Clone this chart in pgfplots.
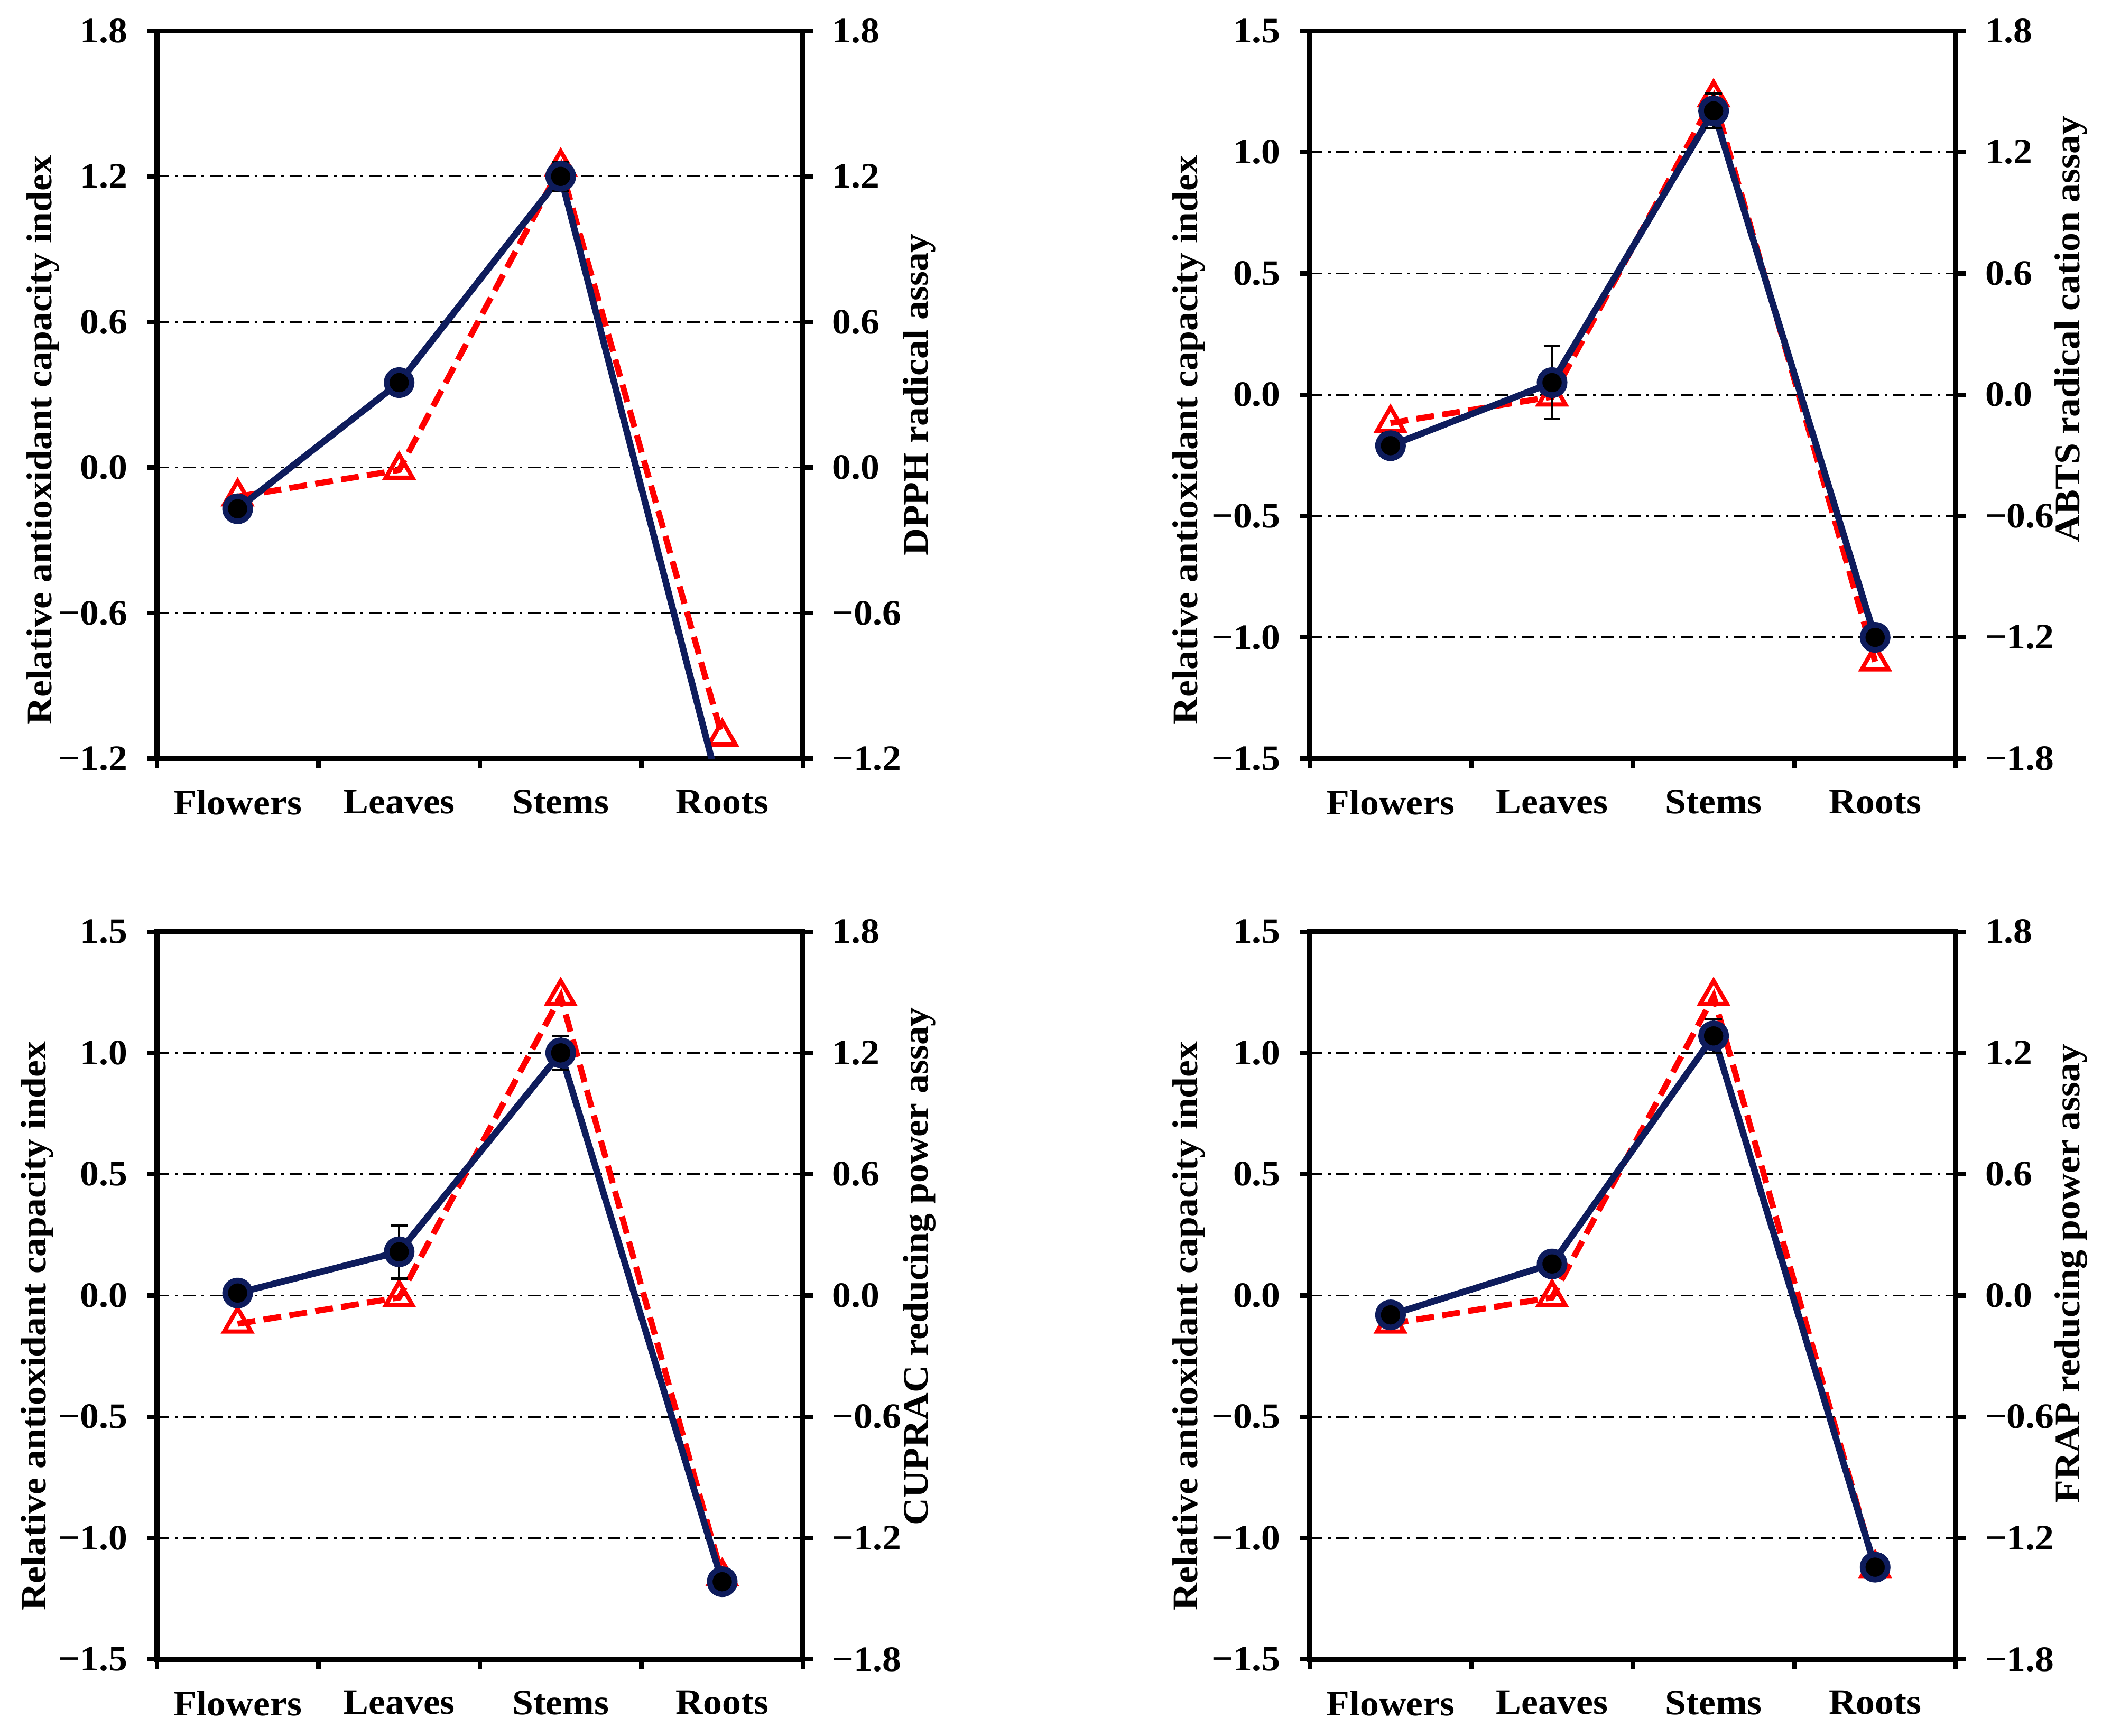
\documentclass[border=0pt]{standalone}
\usepackage{pgfplots}
\usepackage{pgfplotstable}
\pgfplotsset{compat=1.18}
\usepackage{fontspec}
\setmainfont{Liberation Serif}[FakeStretch=1.06]
\definecolor{navy}{RGB}{14,28,92}
\newcommand\labfont{\bfseries\fontsize{12}{14}\selectfont}

% x: 0 Flowers, 1 Leaves, 2 Stems, 3 Roots
\pgfplotstableread{
x b e r
0 -0.17 0.02 -0.12
1 0.35 0.02 -0.01
2 1.20 0.06 1.24
3 -1.37 0.00 -1.11
}\dpph
\pgfplotstableread{
x b e r
0 -0.21 0.05 -0.14
1 0.05 0.15 -0.01
2 1.17 0.07 1.47
3 -1.00 0.02 -1.32
}\abts
\pgfplotstableread{
x b e r
0 0.01 0.02 -0.14
1 0.18 0.11 -0.01
2 1.00 0.07 1.48
3 -1.18 0.02 -1.39
}\cuprac
\pgfplotstableread{
x b e r
0 -0.08 0.02 -0.14
1 0.13 0.03 -0.01
2 1.07 0.07 1.48
3 -1.12 0.02 -1.35
}\frap

\pgfplotsset{
  base/.style={scale only axis, width=216.9pt, height=244.35pt,
    xmin=-0.5, xmax=3.5, clip marker paths=true, anchor=south west},
  leftax/.style={base,
    axis line style={line width=1.7pt},
    tick align=outside, major tick length=3.3pt,
    tick style={line width=1.5pt, black},
    ytick pos=left, xtick pos=bottom,
    xtick={-0.5,0.5,1.5,2.5,3.5}, xticklabels={},
    extra x ticks={0,1,2,3},
    extra x tick labels={Flowers,Leaves,Stems,Roots},
    extra x tick style={major tick length=0pt, grid=none},
    ymajorgrids,
    grid style={black, line width=0.6pt, dash pattern=on 4.2pt off 1.9pt on 0.9pt off 1.9pt},
    tick label style={font=\labfont}, label style={font=\labfont},
    yticklabel style={xshift=-3pt},
    xticklabel style={yshift=-7pt},
    ylabel={Relative antioxidant capacity index},
  },
  rightax/.style={base,
    axis x line=none, axis y line*=right,
    axis line style={line width=1.7pt},
    tick align=outside, major tick length=3.3pt,
    tick style={line width=1.5pt, black},
    ymin=-1.8, ymax=1.8, ytick={-1.8,-1.2,-0.6,0,0.6,1.2,1.8},
    yticklabels={−1.8,−1.2,−0.6,0.0,0.6,1.2,1.8},
    tick label style={font=\labfont}, label style={font=\labfont},
    yticklabel style={xshift=3pt},
  },
  blueax/.style={base, hide axis},
  redplot/.style={draw=red, line width=2pt, dash pattern=on 6pt off 2.8pt,
    mark=triangle, mark options={solid, fill=white, draw=red, line width=1.4pt, mark size=5.2pt}},
  blueplot/.style={draw=navy, line width=2.2pt, mark=*,
    mark options={solid, fill=black, draw=navy, line width=1.9pt, mark size=4.2pt},
    error bars/.cd, y dir=both, y explicit,
    error bar style={black, line width=0.8pt},
    error mark options={rotate=90, black, line width=0.8pt, mark size=2.8pt}},
}

\begin{document}
\begin{tikzpicture}
\useasboundingbox (0,0) rectangle (705.6pt,-582.75pt);

% ---------- Top left: DPPH ----------
\begin{axis}[leftax, at={(52.65pt,-254.7pt)},
  ymin=-1.2, ymax=1.8, ytick={-1.2,-0.6,0,0.6,1.2,1.8},
  yticklabels={−1.2,−0.6,0.0,0.6,1.2,1.8},
  ylabel style={at={(axis description cs:-0.176,0.438)}, anchor=center}]
\end{axis}
\begin{axis}[rightax, at={(52.65pt,-254.7pt)},
  ymin=-1.2, ymax=1.8, ytick={-1.2,-0.6,0,0.6,1.2,1.8},
  yticklabels={−1.2,−0.6,0.0,0.6,1.2,1.8},
  ylabel={DPPH radical assay},
  ylabel style={at={(axis description cs:1.18,0.5)}, anchor=center}]
\addplot[redplot] table[x=x, y=r] {\dpph};
\end{axis}
\begin{axis}[blueax, at={(52.65pt,-254.7pt)}, ymin=-1.2, ymax=1.8]
\addplot[blueplot] table[x=x, y=b, y error=e] {\dpph};
\end{axis}

% ---------- Top right: ABTS ----------
\begin{axis}[leftax, at={(439.65pt,-254.7pt)},
  ymin=-1.5, ymax=1.5, ytick={-1.5,-1,-0.5,0,0.5,1,1.5},
  yticklabels={−1.5,−1.0,−0.5,0.0,0.5,1.0,1.5},
  ylabel style={at={(axis description cs:-0.187,0.438)}, anchor=center}]
\end{axis}
\begin{axis}[rightax, at={(439.65pt,-254.7pt)},
  ylabel={ABTS radical cation assay},
  ylabel style={at={(axis description cs:1.178,0.59)}, anchor=center}]
\addplot[redplot] table[x=x, y=r] {\abts};
\end{axis}
\begin{axis}[blueax, at={(439.65pt,-254.7pt)}, ymin=-1.5, ymax=1.5]
\addplot[blueplot] table[x=x, y=b, y error=e] {\abts};
\end{axis}

% ---------- Bottom left: CUPRAC ----------
\begin{axis}[leftax, at={(52.65pt,-557.1pt)},
  ymin=-1.5, ymax=1.5, ytick={-1.5,-1,-0.5,0,0.5,1,1.5},
  yticklabels={−1.5,−1.0,−0.5,0.0,0.5,1.0,1.5},
  ylabel style={at={(axis description cs:-0.185,0.458)}, anchor=center}]
\end{axis}
\begin{axis}[rightax, at={(52.65pt,-557.1pt)},
  ylabel={CUPRAC reducing power assay},
  ylabel style={at={(axis description cs:1.18,0.54)}, anchor=center}]
\addplot[redplot] table[x=x, y=r] {\cuprac};
\end{axis}
\begin{axis}[blueax, at={(52.65pt,-557.1pt)}, ymin=-1.5, ymax=1.5]
\addplot[blueplot] table[x=x, y=b, y error=e] {\cuprac};
\end{axis}

% ---------- Bottom right: FRAP ----------
\begin{axis}[leftax, at={(439.65pt,-557.1pt)},
  ymin=-1.5, ymax=1.5, ytick={-1.5,-1,-0.5,0,0.5,1,1.5},
  yticklabels={−1.5,−1.0,−0.5,0.0,0.5,1.0,1.5},
  ylabel style={at={(axis description cs:-0.187,0.458)}, anchor=center}]
\end{axis}
\begin{axis}[rightax, at={(439.65pt,-557.1pt)},
  ylabel={FRAP reducing power assay},
  ylabel style={at={(axis description cs:1.178,0.53)}, anchor=center}]
\addplot[redplot] table[x=x, y=r] {\frap};
\end{axis}
\begin{axis}[blueax, at={(439.65pt,-557.1pt)}, ymin=-1.5, ymax=1.5]
\addplot[blueplot] table[x=x, y=b, y error=e] {\frap};
\end{axis}
\end{tikzpicture}
\end{document}
